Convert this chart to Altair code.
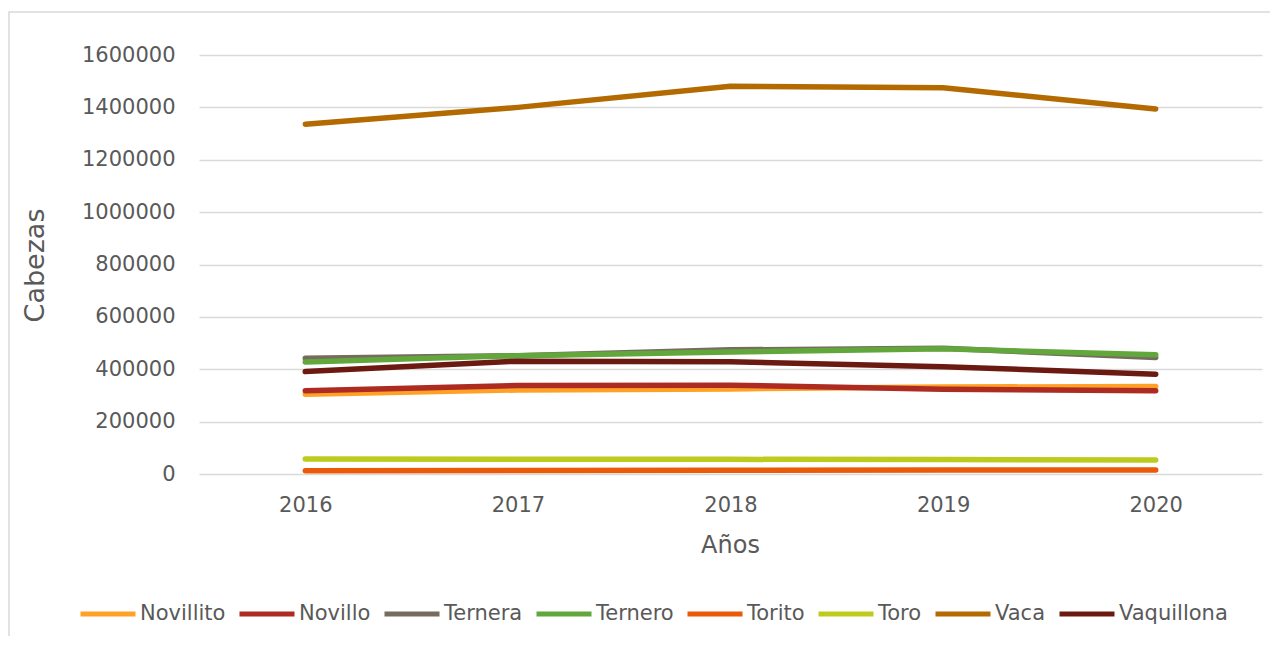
import altair as alt
import pandas as pd

years = ["2016", "2017", "2018", "2019", "2020"]
series = ["Novillito", "Novillo", "Ternera", "Ternero", "Torito", "Toro", "Vaca", "Vaquillona"]
novillito = [305000, 321000, 325000, 332000, 334000]
novillo = [318000, 338000, 339000, 324000, 318000]
ternera = [442000, 452000, 474000, 480000, 445000]
ternero = [428000, 452000, 466000, 478000, 455000]
torito = [12000, 13000, 14000, 15000, 15000]
toro = [57000, 56000, 56000, 55000, 53500]
vaca = [1336000, 1400000, 1481000, 1475000, 1394000]
vaquillona = [391000, 431000, 429000, 410000, 381000]
colors = ["#FFA126", "#AD2B20", "#756B5E", "#62A73B", "#EA5A09", "#BDCB1D", "#B36A00", "#6B1A12"]

values = [novillito, novillo, ternera, ternero, torito, toro, vaca, vaquillona]
rows = []
for name, vals in zip(series, values):
    for y, v in zip(years, vals):
        rows.append({"Año": y, "Serie": name, "Cabezas": v})
df = pd.DataFrame(rows)

FONT = "DejaVu Sans"
TXT = "#595959"

frame = alt.Chart(pd.DataFrame({"a": [0]})).mark_rect(
    fillOpacity=0, stroke="#d9d9d9", strokeWidth=1.5
).encode(
    x=alt.value(-190), x2=alt.value(1200), y=alt.value(-43), y2=alt.value(650)
)

lines = alt.Chart(df).mark_line(strokeWidth=5.5, strokeCap="round", strokeJoin="round").encode(
    x=alt.X("Año:O", scale=alt.Scale(type="point", padding=0.5),
            axis=alt.Axis(title="Años", labelAngle=0, ticks=False, domain=False, grid=False,
                          labelFontSize=21, labelPadding=20, labelColor=TXT,
                          titleFontSize=24, titleFontWeight="normal", titleColor=TXT,
                          titleX=531, titleY=71, titleBaseline="middle")),
    y=alt.Y("Cabezas:Q", scale=alt.Scale(domain=[0, 1600000], nice=False),
            axis=alt.Axis(title="Cabezas", values=list(range(0, 1600001, 200000)), format="d",
                          ticks=False, domain=False, grid=True, gridColor="#d9d9d9", gridWidth=1.5,
                          labelFontSize=21, labelPadding=24, labelColor=TXT,
                          titleFontSize=27, titleFontWeight="normal", titleColor=TXT,
                          titleAngle=270, titleX=-164, titleY=210, titleAlign="center",
                          titleBaseline="middle")),
    color=alt.Color("Serie:N", scale=alt.Scale(domain=series, range=colors),
                    legend=alt.Legend(title=None, orient="none", direction="horizontal",
                                      columns=8, legendX=-121, legendY=529,
                                      symbolType="stroke", symbolSize=3025, symbolStrokeWidth=5,
                                      labelFontSize=21, labelColor=TXT, labelOffset=2,
                                      columnPadding=3, symbolOffset=0)),
    order=alt.Order("Serie:N"),
)

chart = alt.layer(frame, lines).properties(
    width=1063, height=419,
    padding={"left": 191, "top": 47, "right": 8, "bottom": 162},
    autosize=alt.AutoSizeParams(type="none"),
).configure(font=FONT).configure_view(stroke="transparent", strokeOpacity=0, strokeWidth=0)

chart.save("out.html", embed_options={"renderer": "svg", "actions": False})
